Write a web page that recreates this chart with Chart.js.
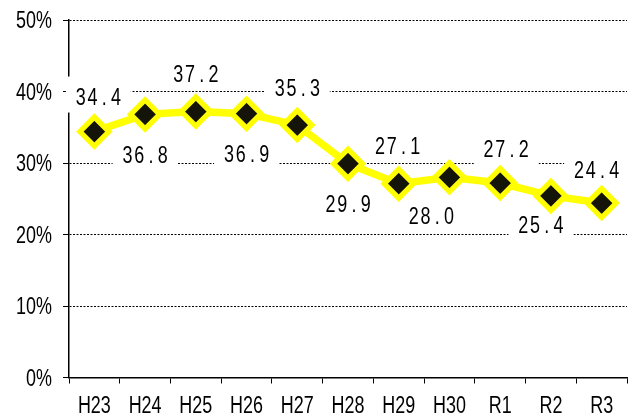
<!DOCTYPE html>
<html lang="ja">
<head>
    <meta charset="UTF-8">
    <title>割合の推移</title>
    <script src="https://cdn.jsdelivr.net/npm/chart.js"></script>
    <style>
        body { margin: 0; padding: 0; background: #fff; }
        #wrap { width: 635px; height: 416px; }
    </style>
</head>
<body>
    <div id="wrap"><canvas id="chart" width="635" height="416"></canvas></div>

    <script>
        // data
        const years = ['H23', 'H24', 'H25', 'H26', 'H27', 'H28', 'H29', 'H30', 'R1', 'R2', 'R3'];
        const rates = [34.4, 36.8, 37.2, 36.9, 35.3, 29.9, 27.1, 28.0, 27.2, 25.4, 24.4];
        const yTicks = [0, 10, 20, 30, 40, 50];

        // where each value label sits relative to its point [dx, dy]
        const labelNudge = [
            [4, -35], [0, 40], [0, -38], [0, 40], [0, -37], [0, 40],
            [-1, -38], [-18, 38], [6, -34], [-10, 29], [-5, -33]
        ];

        // the original uses a narrow gothic face, so squeeze Liberation Sans a bit
        const FONT = '23px "Liberation Sans", Arial, sans-serif';
        const SQUEEZE = 0.78;
        const CAP = 8.2; // half cap height

        function narrowText(ctx, txt, x, y, align) {
            ctx.save();
            ctx.scale(SQUEEZE, 1);
            ctx.textAlign = align;
            ctx.fillText(txt, x / SQUEEZE, y);
            ctx.restore();
        }

        // value labels: white box, each character in a fixed-width cell
        const valueLabels = {
            id: 'valueLabels',
            beforeDatasetsDraw(chart) {
                const ctx = chart.ctx;
                const meta = chart.getDatasetMeta(0);
                const cell = 11.75;
                ctx.save();
                ctx.font = FONT;
                ctx.textBaseline = 'alphabetic';
                meta.data.forEach((pt, i) => {
                    const txt = rates[i].toFixed(1);
                    const cx = pt.x + labelNudge[i][0];
                    const cy = pt.y + labelNudge[i][1];
                    const w = txt.length * cell;
                    ctx.fillStyle = '#fff';
                    ctx.fillRect(cx - w / 2 - 9, cy - 20, w + 18, 36);
                    ctx.fillStyle = '#000';
                    for (let k = 0; k < txt.length; k++) {
                        narrowText(ctx, txt[k], cx - w / 2 + cell * (k + 0.5), cy + CAP, 'center');
                    }
                });
                ctx.restore();
            }
        };

        // axis tick labels in the same squeezed face
        const tickLabels = {
            id: 'tickLabels',
            afterDraw(chart) {
                const ctx = chart.ctx;
                const xs = chart.scales.x;
                const ys = chart.scales.y;
                ctx.save();
                ctx.font = FONT;
                ctx.fillStyle = '#000';
                ctx.textBaseline = 'alphabetic';
                years.forEach((lab, i) => {
                    narrowText(ctx, lab, xs.getPixelForValue(i), xs.top + 35.5, 'center');
                });
                yTicks.forEach(v => {
                    narrowText(ctx, v + '%', ys.right - 17, ys.getPixelForValue(v) + CAP, 'right');
                });
                ctx.restore();
            }
        };

        new Chart(document.getElementById('chart'), {
            type: 'line',
            data: {
                labels: years,
                datasets: [{
                    data: rates,
                    borderColor: '#ffff00',
                    borderWidth: 7.5,
                    tension: 0,
                    pointStyle: 'rectRot',
                    pointRadius: 14.5,
                    pointHoverRadius: 14.5,
                    pointBorderWidth: 5.3,
                    pointBorderColor: '#ffff00',
                    pointBackgroundColor: '#141408'
                }]
            },
            options: {
                responsive: false,
                devicePixelRatio: 1,
                animation: false,
                layout: { autoPadding: false, padding: { top: 20, right: 8, left: 0, bottom: 0 } },
                plugins: { legend: { display: false }, tooltip: { enabled: false } },
                scales: {
                    x: {
                        offset: true,
                        afterFit: (s) => { s.height = 38.5; },
                        grid: {
                            offset: true,
                            drawOnChartArea: false,
                            tickLength: 6,
                            tickColor: '#000',
                            tickWidth: 1
                        },
                        border: { color: '#000', width: 1.5 },
                        ticks: { display: false, autoSkip: false }
                    },
                    y: {
                        min: 0,
                        max: 50,
                        afterFit: (s) => { s.width = 69; },
                        afterBuildTicks: (s) => { s.ticks = yTicks.map(v => ({ value: v })); },
                        grid: {
                            color: '#000',
                            lineWidth: 1,
                            tickLength: 6,
                            tickColor: '#000',
                            tickBorderDash: [1, 0]
                        },
                        border: { color: '#000', width: 1.5, dash: [2, 1.5] },
                        ticks: { display: false }
                    }
                }
            },
            plugins: [valueLabels, tickLabels]
        });
    </script>
</body>
</html>
